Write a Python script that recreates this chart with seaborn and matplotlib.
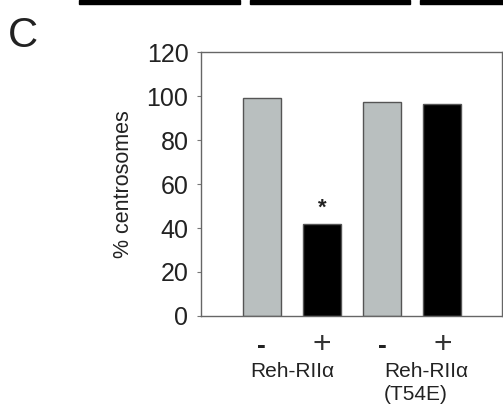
import matplotlib
matplotlib.use("Agg")
import matplotlib.pyplot as plt
import matplotlib.patches as mpatches
import seaborn as sns
import pandas as pd

# data
conditions = ["ctrl_wt", "reh_wt", "ctrl_t54e", "reh_t54e"]
signs = ["-", "+", "-", "+"]
centrosomes = [99, 42, 97.5, 96.5]
bar_colors = ["#b8c0c0", "#000000", "#b8c0c0", "#000000"]
groups = ["Reh-RII\u03b1", "Reh-RII\u03b1\n(T54E)"]
yticks = [0, 20, 40, 60, 80, 100, 120]

sns.set_theme(style="white")
plt.rcParams["font.family"] = ["Liberation Sans", "DejaVu Sans"]

df = pd.DataFrame({"cond": conditions, "pct": centrosomes})

fig = plt.figure(figsize=(5.03, 4.07), dpi=100)
ax = fig.add_axes([0.3996, 0.2236, 0.5984, 0.6486])

sns.barplot(data=df, x="cond", y="pct", hue="cond", order=conditions,
            palette=dict(zip(conditions, bar_colors)), legend=False,
            width=0.63, edgecolor="#555555", linewidth=1.0, ax=ax)

ax.set_xlim(-1.01, 3.99)
ax.set_ylim(0, 120)
ax.set_yticks(yticks)
ax.set_yticklabels([str(t) for t in yticks], fontsize=18, color="#222222")
ax.set_xticks(range(len(signs)))
ax.set_xticklabels([])
ax.tick_params(axis="x", length=0)
ax.tick_params(axis="y", direction="out", length=3, width=0.8,
               color="#777777", left=True, pad=6)
ax.set_xlabel("")
ax.set_ylabel("% centrosomes", fontsize=15.5, color="#222222", labelpad=9)

for sp in ax.spines.values():
    sp.set_color("#666666")
    sp.set_linewidth(1.0)

trans = ax.get_xaxis_transform()
# - / + under each bar
for i, s in enumerate(signs):
    if s == "+":
        ax.text(i, -0.11, s, transform=trans, ha="center", va="center",
                fontsize=23, color="#333333")
    else:
        ax.text(i, -0.115, s, transform=trans, ha="center", va="center",
                fontsize=19, fontweight="bold", color="#222222")

# significance asterisk
ax.text(1, centrosomes[1] + 2, "*", ha="center", va="bottom",
        fontsize=16, fontweight="bold", color="#222222")

# group labels under the signs
ax.text(0.5, -0.175, groups[0], transform=trans, ha="center", va="top",
        fontsize=15, color="#222222")
ax.text(2.03, -0.175, groups[1], transform=trans, ha="left", va="top",
        fontsize=15, color="#222222", linespacing=1.25)

# panel letter
fig.text(0.015, 0.96, "C", fontsize=30, color="#222222", va="top")

# pieces of the panels above, cut by the crop
for x0, x1 in [(79, 240), (250, 410), (420, 503)]:
    fig.patches.append(mpatches.Rectangle((x0 / 503, 1 - 3.5 / 407),
                                          (x1 - x0) / 503, 3.5 / 407,
                                          transform=fig.transFigure,
                                          color="black", zorder=5))

fig.savefig("out.png", dpi=100)
